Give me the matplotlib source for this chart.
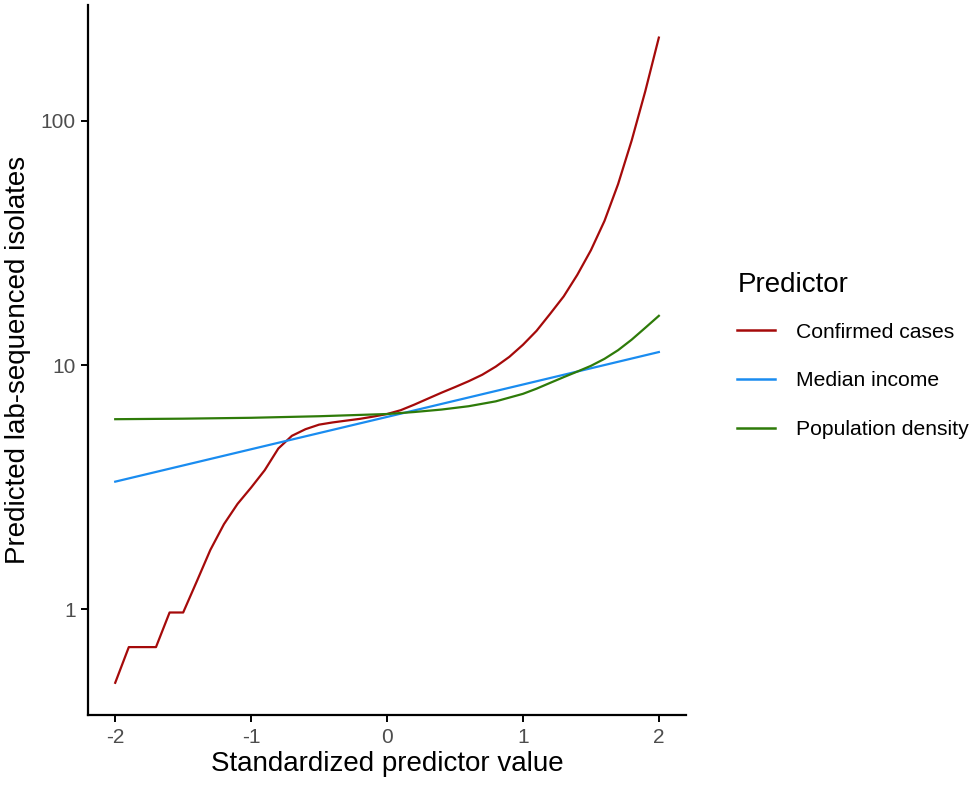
import matplotlib
matplotlib.use("Agg")
from matplotlib import pyplot as plt
import numpy as np

plt.rcParams['font.family'] = ['Liberation Sans', 'DejaVu Sans']
plt.rcParams['axes.unicode_minus'] = False

# valores
x_grid = np.round(np.arange(-2.0, 2.01, 0.1), 1)

confirmed_cases = [0.50, 0.70, 0.70, 0.70, 0.97, 0.97, 1.30, 1.75, 2.23, 2.70,
                   3.15, 3.71, 4.55, 5.13, 5.46, 5.70, 5.82, 5.92, 6.02, 6.15,
                   6.30, 6.53, 6.88, 7.28, 7.70, 8.12, 8.58, 9.12, 9.85, 10.8,
                   12.1, 13.8, 16.2, 19.1, 23.4, 29.5, 38.9, 55.0, 83.0, 132.0,
                   219.0]

median_income_x = [-2, -1, 0, 1, 2]
median_income = [3.33, 4.52, 6.13, 8.32, 11.3]

pop_density_x = [-2.0, -1.5, -1.0, -0.5, 0.0, 0.2, 0.4, 0.6, 0.8, 1.0,
                 1.1, 1.2, 1.3, 1.4, 1.5, 1.6, 1.7, 1.8, 1.9, 2.0]
pop_density = [6.00, 6.03, 6.08, 6.17, 6.30, 6.42, 6.57, 6.78, 7.10, 7.62,
               8.00, 8.45, 8.92, 9.40, 9.92, 10.6, 11.5, 12.7, 14.2, 15.9]

labels = ['Confirmed cases', 'Median income', 'Population density']
colors = ['#A50A0A', '#1A8CF0', '#2E7B09']

fig = plt.figure(figsize=(9.76, 7.90), dpi=100)
ax = fig.add_axes([0.0902, 0.0949, 0.6127, 0.8988])

ax.plot(x_grid, confirmed_cases, color=colors[0], lw=1.6, label=labels[0])
ax.plot(median_income_x, median_income, color=colors[1], lw=1.6, label=labels[1])
ax.plot(pop_density_x, pop_density, color=colors[2], lw=1.6, label=labels[2])

ax.set_yscale('log')
ax.set_xlim(-2.2, 2.2)
ax.set_ylim(10 ** -0.433, 10 ** 2.474)
ax.set_yticks([1, 10, 100])
ax.set_yticklabels(['1', '10', '100'])
ax.minorticks_off()
ax.set_xticks([-2, -1, 0, 1, 2])

for s in ['top', 'right']:
    ax.spines[s].set_visible(False)
for s in ['left', 'bottom']:
    ax.spines[s].set_linewidth(1.6)
ax.tick_params(axis='both', length=5, width=1.4, labelsize=15, labelcolor='#4D4D4D', pad=4)

ax.set_xlabel('Standardized predictor value', fontsize=20, labelpad=3)
ax.set_ylabel('Predicted lab-sequenced isolates', fontsize=20, labelpad=7)

leg = fig.legend(loc='upper left', bbox_to_anchor=(0.736, 0.680), frameon=False,
                 title='Predictor', fontsize=15.2, title_fontsize=20,
                 handlelength=1.8, handletextpad=1.0, labelspacing=1.4)
leg._legend_box.align = 'left'
leg._legend_box.sep = 18
for line in leg.get_lines():
    line.set_linewidth(1.8)

fig.savefig('out.png', dpi=100)
